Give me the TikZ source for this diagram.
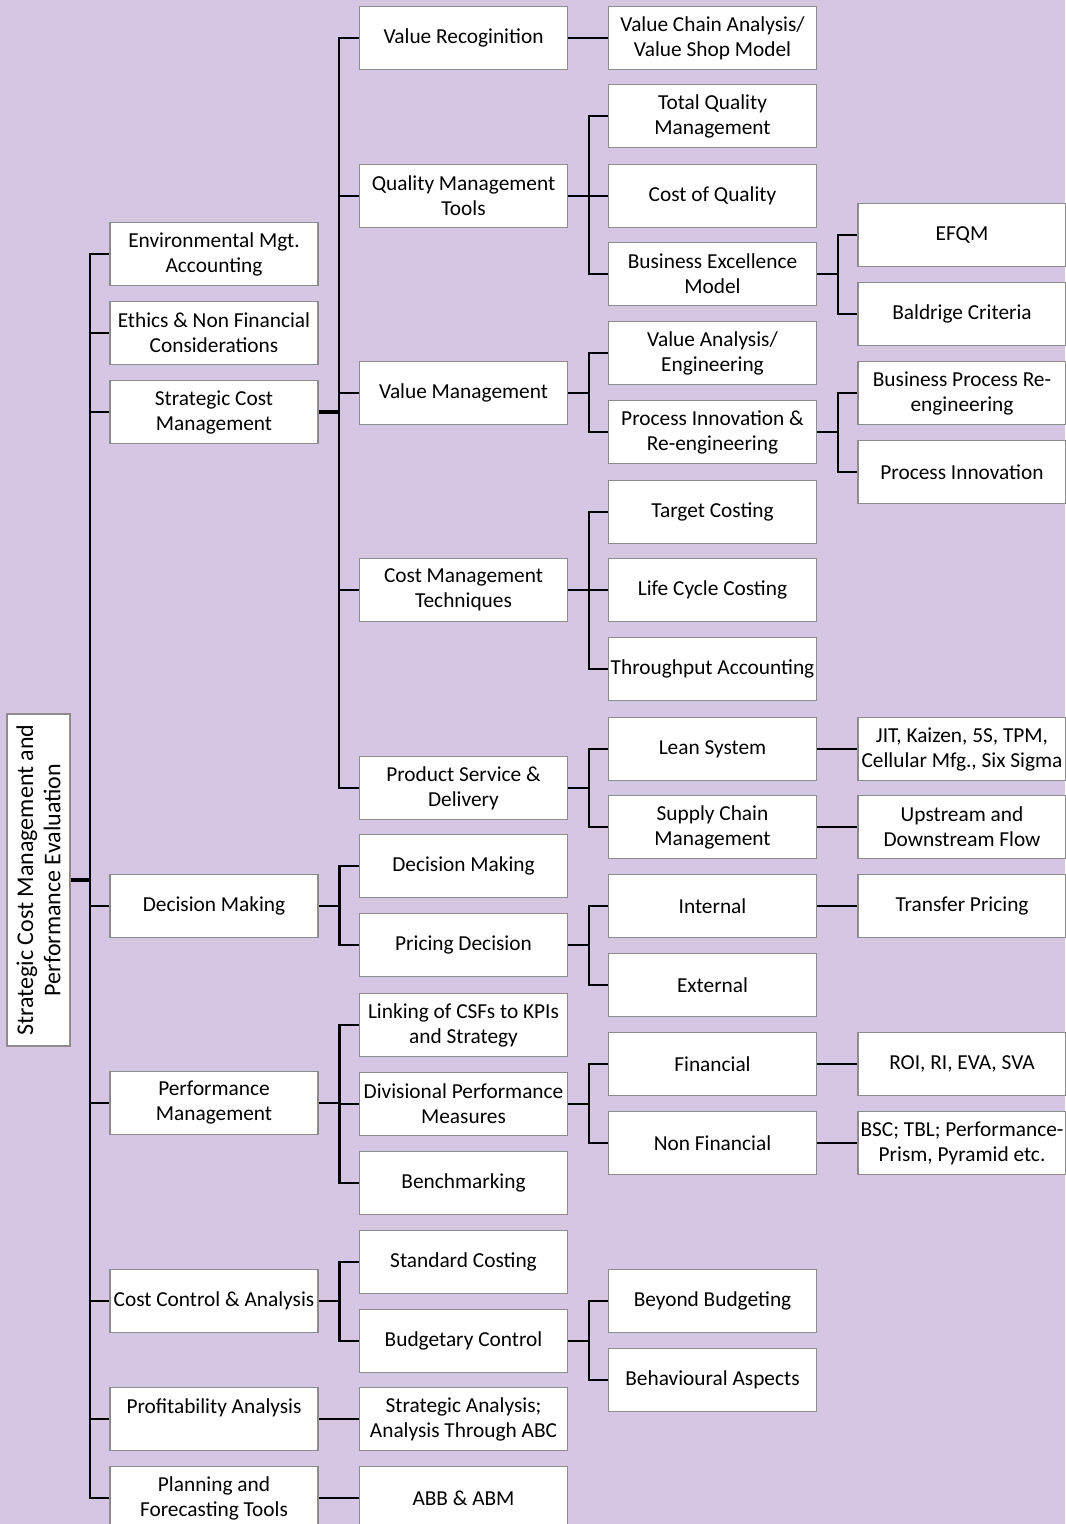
\documentclass[tikz,border=0pt]{standalone}
\usepackage{fontspec}
\setmainfont{Carlito}
\definecolor{lavbg}{RGB}{213,199,227}
\definecolor{boxline}{RGB}{140,140,140}
\tikzset{
    box/.style={draw=boxline, line width=0.8pt, fill=white, align=center,
        minimum width=156pt, minimum height=47.25pt, inner sep=1pt,
        font=\fontsize{16}{18.75}\selectfont},
    rootbox/.style={box, rotate=90, minimum width=249pt,
        font=\fontsize{18}{20.5}\selectfont},
    link/.style={line width=1.6pt, black}
}
\begin{document}
\begin{tikzpicture}[x=0.75pt, y=-0.75pt]
            \fill[lavbg] (0, 0) rectangle (1065, 1524);
            \useasboundingbox (0, 0) rectangle (1065, 1524);

            \node[rootbox] (root) at (38.5, 880) {Strategic Cost Management and\\Performance Evaluation};

            % first level
            \node[box] (env) at (214, 254) {Environmental Mgt.\\Accounting};
            \node[box] (eth) at (214, 333) {Ethics \& Non Financial\\Considerations};
            \node[box] (scm) at (214, 412) {Strategic Cost\\Management};
            \node[box] (dm) at (214, 906) {Decision Making};
            \node[box] (pm) at (214, 1103) {Performance\\Management};
            \node[box] (cca) at (214, 1301) {Cost Control \& Analysis};
            \node[box] (pa) at (214, 1419) {Profitability Analysis\\\mbox{}};
            \node[box] (pft) at (214, 1498) {Planning and\\Forecasting Tools};

            % second level
            \node[box] (vr) at (463.5, 38) {Value Recoginition};
            \node[box] (qmt) at (463.5, 196) {Quality Management\\Tools};
            \node[box] (vm) at (463.5, 393) {Value Management};
            \node[box] (cmt) at (463.5, 590) {Cost Management\\Techniques};
            \node[box] (psd) at (463.5, 788) {Product Service \&\\Delivery};
            \node[box] (dm2) at (463.5, 866) {Decision Making};
            \node[box] (pd) at (463.5, 945) {Pricing Decision};
            \node[box] (csf) at (463.5, 1025) {Linking of CSFs to KPIs\\and Strategy};
            \node[box] (dpm) at (463.5, 1104) {Divisional Performance\\Measures};
            \node[box] (bm) at (463.5, 1183) {Benchmarking};
            \node[box] (sc) at (463.5, 1262) {Standard Costing};
            \node[box] (bc) at (463.5, 1341) {Budgetary Control};
            \node[box] (sa) at (463.5, 1419) {Strategic Analysis;\\Analysis Through ABC};
            \node[box] (abb) at (463.5, 1498) {ABB \& ABM};

            % third level
            \node[box] (vca) at (712.5, 38) {Value Chain Analysis/\\Value Shop Model};
            \node[box] (tqm) at (712.5, 116) {Total Quality\\Management};
            \node[box] (coq) at (712.5, 196) {Cost of Quality};
            \node[box] (bem) at (712.5, 274) {Business Excellence\\Model};
            \node[box] (vae) at (712.5, 353) {Value Analysis/\\Engineering};
            \node[box] (pir) at (712.5, 432) {Process Innovation \&\\Re-engineering};
            \node[box] (tc) at (712.5, 512) {Target Costing};
            \node[box] (lcc) at (712.5, 590) {Life Cycle Costing};
            \node[box] (ta) at (712.5, 669) {Throughput Accounting};
            \node[box] (ls) at (712.5, 749) {Lean System};
            \node[box] (scmg) at (712.5, 827) {Supply Chain\\Management};
            \node[box] (int) at (712.5, 906) {Internal};
            \node[box] (ext) at (712.5, 985) {External};
            \node[box] (fin) at (712.5, 1064) {Financial};
            \node[box] (nfin) at (712.5, 1143) {Non Financial};
            \node[box] (bb) at (712.5, 1301) {Beyond Budgeting};
            \node[box] (ba) at (712.5, 1380) {Behavioural Aspects};

            % fourth level
            \node[box] (efqm) at (962, 235) {EFQM};
            \node[box] (bcr) at (962, 314) {Baldrige Criteria};
            \node[box] (bpr) at (962, 393) {Business Process Re-\\engineering};
            \node[box] (pin) at (962, 472) {Process Innovation};
            \node[box] (jit) at (962, 749) {JIT, Kaizen, 5S, TPM,\\Cellular Mfg., Six Sigma};
            \node[box] (udf) at (962, 827) {Upstream and\\Downstream Flow};
            \node[box] (tp) at (962, 906) {Transfer Pricing};
            \node[box] (roi) at (962, 1064) {ROI, RI, EVA, SVA};
            \node[box] (bsc) at (962, 1143) {BSC; TBL; Performance-\\Prism, Pyramid etc.};

            % connectors
            \coordinate (s1) at (90, 880);
            \draw[link, line width=3pt] (root.south) -- (s1);
            \foreach \n in {env, eth, scm, dm, pm, cca, pa, pft}
                \draw[link] (s1) |- (\n.west);

            \coordinate (s2) at (339, 412);
            \draw[link, line width=2.4pt] (scm.east) -- (s2);
            \foreach \n in {vr, qmt, vm, cmt, psd}
                \draw[link] (s2) |- (\n.west);

            \draw[link] (dm.east) -- ++(21, 0) coordinate (s3);
            \foreach \n in {dm2, pd}
                \draw[link] (s3) |- (\n.west);
            \draw[link] (pm.east) -- ++(21, 0) coordinate (s4);
            \foreach \n in {csf, dpm, bm}
                \draw[link] (s4) |- (\n.west);
            \draw[link] (cca.east) -- ++(21, 0) coordinate (s5);
            \foreach \n in {sc, bc}
                \draw[link] (s5) |- (\n.west);
            \draw[link] (pa.east) -- (sa.west);
            \draw[link] (pft.east) -- (abb.west);

            \draw[link] (vr.east) -- (vca.west);
            \draw[link] (qmt.east) -- ++(21, 0) coordinate (s6);
            \foreach \n in {tqm, coq, bem}
                \draw[link] (s6) |- (\n.west);
            \draw[link] (vm.east) -- ++(21, 0) coordinate (s7);
            \foreach \n in {vae, pir}
                \draw[link] (s7) |- (\n.west);
            \draw[link] (cmt.east) -- ++(21, 0) coordinate (s8);
            \foreach \n in {tc, lcc, ta}
                \draw[link] (s8) |- (\n.west);
            \draw[link] (psd.east) -- ++(21, 0) coordinate (s9);
            \foreach \n in {ls, scmg}
                \draw[link] (s9) |- (\n.west);
            \draw[link] (pd.east) -- ++(21, 0) coordinate (s10);
            \foreach \n in {int, ext}
                \draw[link] (s10) |- (\n.west);
            \draw[link] (dpm.east) -- ++(21, 0) coordinate (s11);
            \foreach \n in {fin, nfin}
                \draw[link] (s11) |- (\n.west);
            \draw[link] (bc.east) -- ++(21, 0) coordinate (s12);
            \foreach \n in {bb, ba}
                \draw[link] (s12) |- (\n.west);

            \draw[link] (bem.east) -- ++(21, 0) coordinate (s13);
            \foreach \n in {efqm, bcr}
                \draw[link] (s13) |- (\n.west);
            \draw[link] (pir.east) -- ++(21, 0) coordinate (s14);
            \foreach \n in {bpr, pin}
                \draw[link] (s14) |- (\n.west);
            \draw[link] (ls.east) -- (jit.west);
            \draw[link] (scmg.east) -- (udf.west);
            \draw[link] (int.east) -- (tp.west);
            \draw[link] (fin.east) -- (roi.west);
            \draw[link] (nfin.east) -- (bsc.west);
        \end{tikzpicture}
\end{document}
